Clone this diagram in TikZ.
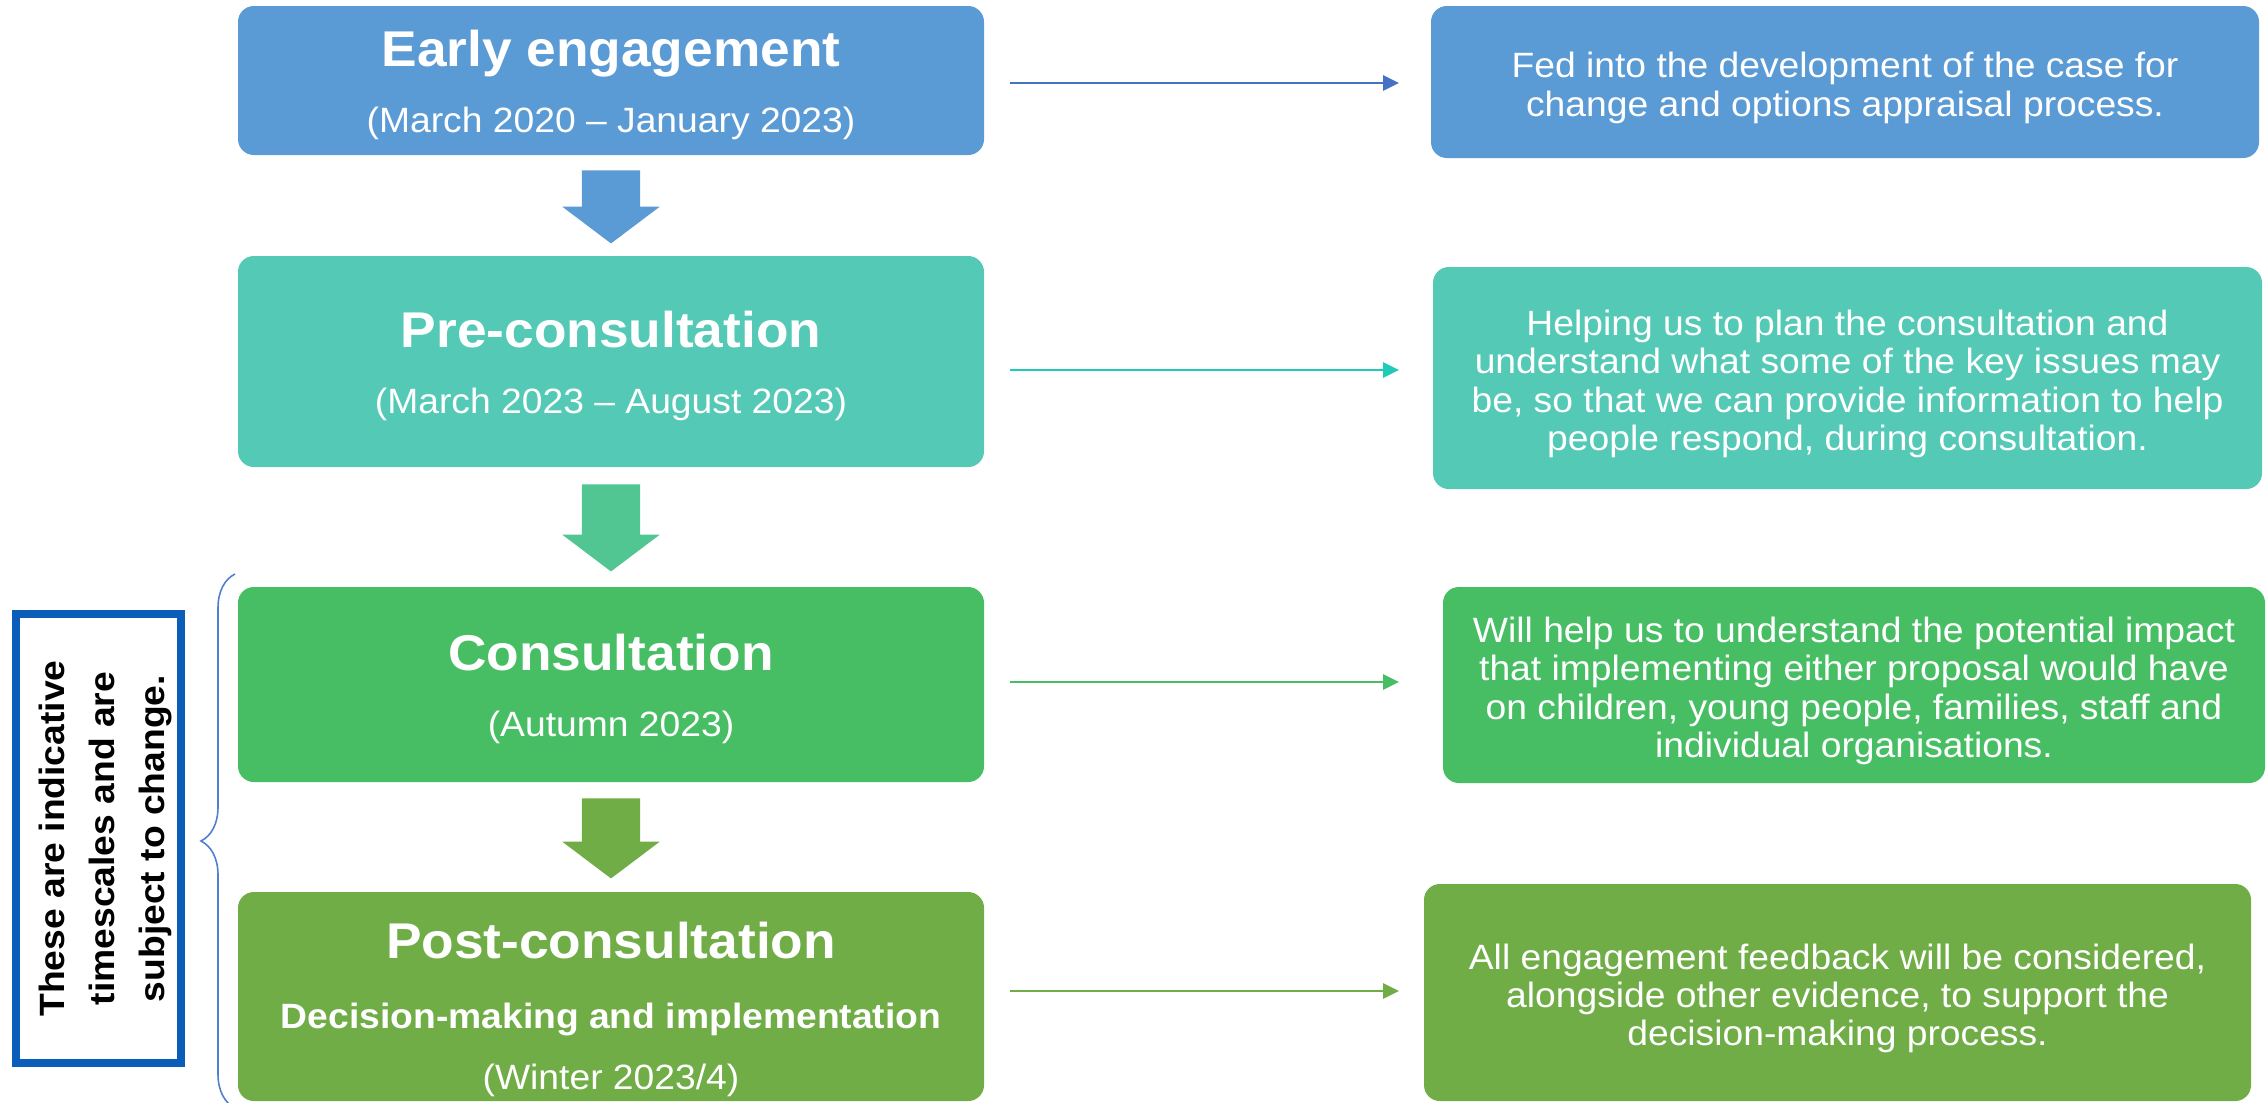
\documentclass[tikz,border=0pt]{standalone}
\usepackage{fontspec}
\setmainfont{Liberation Sans}[FakeStretch=1.06]
\usetikzlibrary{positioning,calc,arrows.meta,shapes.arrows,decorations.pathreplacing}
\definecolor{earlyblue}{HTML}{5B9BD5}
\definecolor{preteal}{HTML}{54C9B6}
\definecolor{consgreen}{HTML}{48BE64}
\definecolor{postgreen}{HTML}{70AD47}
\definecolor{arrowteal}{HTML}{52C692}
\definecolor{linkblue}{HTML}{4472C4}
\definecolor{linkteal}{HTML}{1FCBB8}
\definecolor{noteblue}{HTML}{0A5DB8}
\definecolor{bracecol}{HTML}{4F7FD0}
\newcommand{\stagetitle}{\fontsize{14.3}{17}\selectfont\bfseries\rule{0pt}{12.9pt}}
\newcommand{\sumstrut}{\rule{0pt}{10.6pt}}

\begin{document}
\begin{tikzpicture}[x=1cm, y=-1cm,
	stage/.style={rounded corners=4.5pt, fill=#1, text=white, align=center, minimum width=7.46cm, inner sep=0pt, font=\fontsize{10}{18.6}\selectfont},
	summary/.style={rounded corners=4.5pt, fill=#1, text=white, align=center, inner sep=0pt, font=\fontsize{10}{10.9}\selectfont},
	downarrow/.style={single arrow, fill=#1, draw=none, rotate=-90, anchor=tail, inner xsep=0pt, inner ysep=0.285cm, minimum width=0.96cm, single arrow head extend=0.195cm, single arrow tip angle=106},
	link/.style={draw=#1, line width=0.6pt, -{Triangle[length=4.5pt,width=4.3pt]}},
	notebox/.style={draw=noteblue, line width=2.2pt, align=center, inner sep=0pt, font=\fontsize{10}{14.2}\selectfont\bfseries},
	]
	\useasboundingbox (0,0) rectangle (22.66,11.02);
	\clip (0,0) rectangle (22.66,11.02);
	%Stages
	\node[stage=earlyblue, minimum height=1.49cm] (early) at (6.11,0.805) {{\stagetitle Early engagement}\\(March 2020 – January 2023)};
	\node[stage=preteal, minimum height=2.11cm] (pre) at (6.11,3.615) {{\stagetitle Pre-consultation}\\(March 2023 – August 2023)};
	\node[stage=consgreen, minimum height=1.95cm] (cons) at (6.11,6.845) {{\stagetitle Consultation}\\(Autumn 2023)};
	\node[stage=postgreen, minimum height=2.09cm] (post) at (6.11,9.965) {{\stagetitle\rule{0pt}{17.8pt}Post-consultation}\\[1.3pt]\textbf{Decision-making and implementation}\\[-1.2pt](Winter 2023/4)};
	%Summaries
	\node[summary=earlyblue, minimum width=8.28cm, minimum height=1.52cm] (sum1) at (18.45,0.82) {\sumstrut Fed into the development of the case for\\change and options appraisal process.};
	\node[summary=preteal, minimum width=8.29cm, minimum height=2.22cm] (sum2) at (18.475,3.78) {\sumstrut Helping us to plan the consultation and\\understand what some of the key issues may\\be, so that we can provide information to help\\people respond, during consultation.};
	\node[summary=consgreen, minimum width=8.22cm, minimum height=1.96cm] (sum3) at (18.54,6.85) {\sumstrut Will help us to understand the potential impact\\that implementing either proposal would have\\on children, young people, families, staff and\\individual organisations.};
	\node[summary=postgreen, minimum width=8.27cm, minimum height=2.17cm] (sum4) at (18.375,9.925) {\sumstrut All engagement feedback will be considered,\\alongside other evidence, to support the\\decision-making process.};
	%Note
	\node[notebox, rotate=90, minimum width=4.494cm, minimum height=1.654cm] (note) at (0.985,8.385) {\rule{0pt}{11.3pt}These are indicative\\timescales and are\\subject to change.};
	\draw[bracecol, line width=0.45pt, decorate, decoration={brace, amplitude=0.34cm}] (2.35,11.08) -- (2.35,5.74);
	%Block arrows
	\node[downarrow=earlyblue, minimum height=0.73cm] (a1) at ([yshift=-1.4mm]early.south) {};
	\node[downarrow=arrowteal, minimum height=0.87cm] (a2) at ([yshift=-1.6mm]pre.south) {};
	\node[downarrow=postgreen, minimum height=0.80cm] (a3) at ([yshift=-1.5mm]cons.south) {};
	%Links
	\coordinate (tipx) at (13.99,0);
	\draw[link=linkblue] ([shift={(0.25,0.025)}]early.east) -- ([shift={(0,0.025)}]early.east -| tipx);
	\draw[link=linkteal] ([shift={(0.25,0.085)}]pre.east) -- ([shift={(0,0.085)}]pre.east -| tipx);
	\draw[link=consgreen] ([shift={(0.25,-0.025)}]cons.east) -- ([shift={(0,-0.025)}]cons.east -| tipx);
	\draw[link=postgreen] ([shift={(0.25,-0.055)}]post.east) -- ([shift={(0,-0.055)}]post.east -| tipx);
\end{tikzpicture}
\end{document}
